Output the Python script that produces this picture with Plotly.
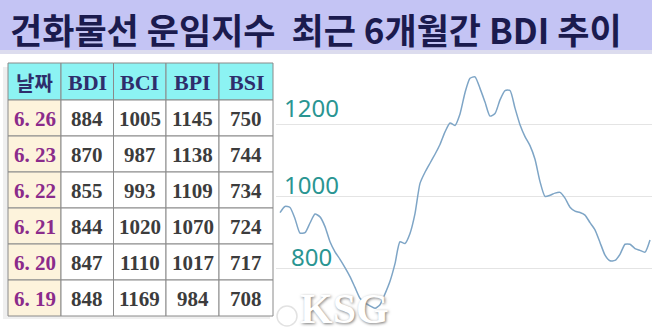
import plotly.graph_objects as go

W, H = 652, 334

# ---- table data ----
headers = ["날짜", "BDI", "BCI", "BPI", "BSI"]
dates = ["6. 26", "6. 23", "6. 22", "6. 21", "6. 20", "6. 19"]
bdi = [884, 870, 855, 844, 847, 848]
bci = [1005, 987, 993, 1020, 1110, 1169]
bpi = [1145, 1138, 1109, 1070, 1017, 984]
bsi = [750, 744, 734, 724, 717, 708]

# ---- 6-month BDI trend ----
bdi_trend = [954, 971, 968, 937, 897, 898, 925, 950, 942, 915,
             873, 845, 824, 801, 776, 746, 716, 703, 695, 688,
             698, 728, 763, 812, 873, 868, 896, 951, 1035, 1066,
             1091, 1116, 1143, 1178, 1203, 1196, 1228, 1287, 1327, 1331,
             1299, 1261, 1222, 1229, 1267, 1293, 1293, 1244, 1198, 1165,
             1140, 1102, 1040, 999, 1002, 1008, 1010, 994, 969, 958,
             954, 947, 926, 906, 871, 836, 820, 821, 838, 866,
             866, 854, 849, 844, 878]
y_ticks = [800, 1000, 1200]
title = "건화물선 운임지수&nbsp;&nbsp;최근 6개월간 BDI 추이"

fig = go.Figure()

fig.add_trace(go.Scatter(
    x=list(range(len(bdi_trend))), y=bdi_trend, mode="lines",
    line=dict(color="#7ea5c6", width=1.5, shape="spline", smoothing=0.6),
    hoverinfo="skip", showlegend=False))

# y mapping: gridline 1200 at y=124px, 800 at y=268px
ppu = 72 / 200
y_top = 1200 + 124 / ppu
y_bot = 800 - (H - 268) / ppu
n = len(bdi_trend)
x0 = -(280 - 276) / 5
x1 = (n - 1) + (652 - 650) / 5

fig.update_layout(
    width=W, height=H, margin=dict(l=0, r=0, t=0, b=0),
    paper_bgcolor="white", plot_bgcolor="white",
    xaxis=dict(domain=[276 / W, 1], range=[x0, x1], visible=False),
    yaxis=dict(domain=[0, 1], range=[y_bot, y_top], tickvals=y_ticks,
               showticklabels=False, showgrid=True, gridcolor="#e4e4e4",
               gridwidth=1, zeroline=False, showline=False, ticks=""),
)

def px_x(v):
    return v / W

def px_y(v):
    return 1 - v / H

# ---- table (shapes + text) ----
col_edges = [8, 61, 113.5, 166, 219, 273]
row_top, head_h, row_h = 63, 37, 36
row_edges = [row_top, row_top + head_h] + [row_top + head_h + row_h * (i + 1) for i in range(len(dates))]
columns = [dates, bdi, bci, bpi, bsi]
border = "#8a8a8a"

# faint shadow
fig.add_shape(type="rect", xref="paper", yref="paper",
              x0=px_x(col_edges[0] - 5), x1=px_x(col_edges[-1] - 3),
              y0=px_y(row_edges[-1] + 3), y1=px_y(row_edges[0] + 4),
              fillcolor="#efefef", line_width=0, layer="above")

for ci in range(len(headers)):
    xa, xb = col_edges[ci], col_edges[ci + 1]
    for ri in range(len(dates) + 1):
        ya, yb = row_edges[ri], row_edges[ri + 1]
        if ri == 0:
            fill = "#8cf3f3"
        elif ci == 0:
            fill = "#fdf3dc"
        else:
            fill = "#ffffff"
        fig.add_shape(type="rect", xref="paper", yref="paper",
                      x0=px_x(xa), x1=px_x(xb), y0=px_y(yb), y1=px_y(ya),
                      fillcolor=fill, line=dict(color=border, width=1), layer="above")
        if ri == 0:
            txt = headers[ci]
            fnt = dict(family="Noto Sans CJK KR" if ci == 0 else "Liberation Serif",
                       size=20 if ci == 0 else 22, color="#2e2e6c")
        else:
            txt = str(columns[ci][ri - 1]).replace(" ", "&nbsp;")
            fnt = dict(family="Liberation Serif", size=21,
                       color="#8b2b8b" if ci == 0 else "#3c3c3c")
        fig.add_annotation(xref="paper", yref="paper",
                           x=px_x((xa + xb) / 2), y=px_y((ya + yb) / 2 + 1),
                           xanchor="center", yanchor="middle", showarrow=False,
                           text=f"<b>{txt}</b>", font=fnt)

# title bar
fig.add_shape(type="rect", xref="paper", yref="paper", x0=0, x1=1,
              y0=px_y(50), y1=1, fillcolor="#c4c4f4", line_width=0, layer="below")
fig.add_shape(type="rect", xref="paper", yref="paper", x0=0, x1=1,
              y0=px_y(54), y1=px_y(50), fillcolor="#dcdcee", line_width=0, layer="below")
fig.add_annotation(xref="paper", yref="paper", x=px_x(8), y=px_y(28),
                   xanchor="left", yanchor="middle", showarrow=False,
                   text=f"<b>{title}</b>",
                   font=dict(family="Noto Sans CJK KR", size=35, color="#1b1b4e"))

# y labels
lab_pos = {1200: (282, 107), 1000: (282, 184), 800: (289, 256)}
for v in y_ticks:
    lx, ly = lab_pos[v]
    fig.add_annotation(xref="paper", yref="paper", x=px_x(lx), y=px_y(ly),
                       xanchor="left", yanchor="middle", showarrow=False,
                       text=str(v),
                       font=dict(family="Noto Sans", size=24, color="#2a9592"))

# watermark
fig.add_shape(type="circle", xref="paper", yref="paper",
              x0=px_x(277), x1=px_x(297), y0=px_y(326), y1=px_y(306),
              line=dict(color="#e2e2e2", width=1.5), fillcolor="rgba(255,255,255,0.9)",
              layer="above")
fig.add_annotation(xref="paper", yref="paper", x=px_x(298), y=0,
                   xanchor="left", yanchor="bottom", showarrow=False,
                   text="<b>KSG</b>",
                   font=dict(family="Liberation Serif", size=42, color="#ffffff",
                             shadow="1px 1px 3px #777"))

fig.write_html("out.html")
